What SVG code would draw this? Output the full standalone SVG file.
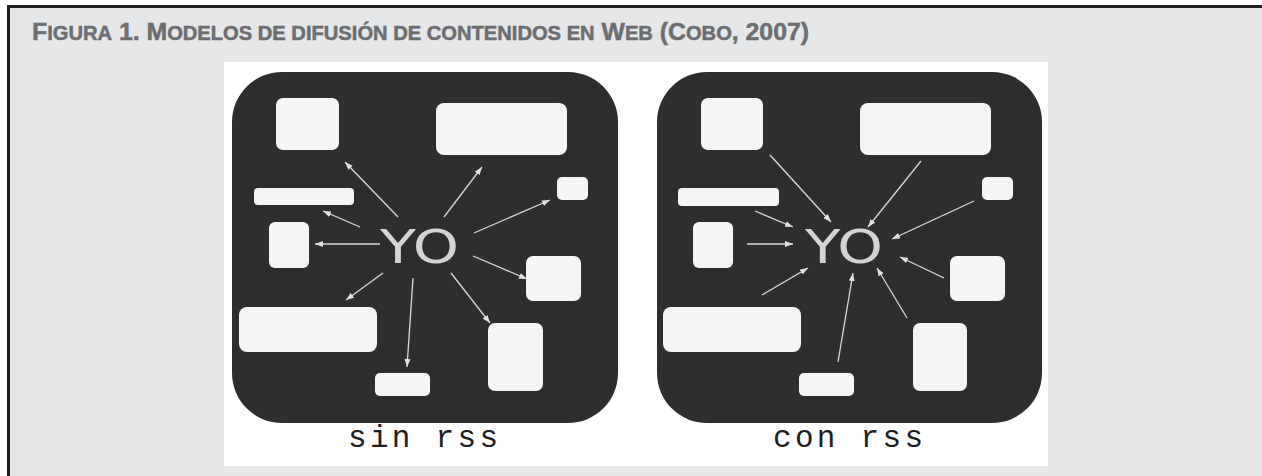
<svg xmlns="http://www.w3.org/2000/svg" width="1262" height="476" viewBox="0 0 1262 476">
<defs>
<style>
.title{font-family:"Liberation Sans",Arial,sans-serif;font-weight:bold;fill:#6d6e71;font-size:24px;stroke:#6d6e71;stroke-width:0.5}
.sc{font-size:19.5px}
.panel{fill:#2f2e2f}
.box{fill:#f5f5f5}
.yo{font-family:"DejaVu Sans","Liberation Sans",sans-serif;fill:#d4d4d4;font-size:46px}
.cap{font-family:"Liberation Mono","Courier New",monospace;fill:#1e1e1e;font-size:31px}
.arr{stroke:#d8d8d8;stroke-width:1.3;fill:none;marker-end:url(#ah)}
</style>
<marker id="ah" viewBox="0 0 8 6" refX="8" refY="3" markerWidth="8" markerHeight="6" markerUnits="userSpaceOnUse" orient="auto">
<path d="M0,0 L8,3 L0,6 z" fill="#e0e0e0"/>
</marker>
</defs>
<rect x="0" y="0" width="1262" height="476" fill="#ffffff"/>
<rect x="8" y="6" width="1254" height="470" fill="#e6e7e8"/>
<line x1="7" y1="6.5" x2="1262" y2="6.5" stroke="#231f20" stroke-width="3"/>
<line x1="8.5" y1="6" x2="8.5" y2="476" stroke="#231f20" stroke-width="3"/>
<text class="title" x="32" y="40" textLength="777" lengthAdjust="spacingAndGlyphs">F<tspan class="sc">IGURA</tspan> 1. M<tspan class="sc">ODELOS DE DIFUSIÓN DE CONTENIDOS EN</tspan> W<tspan class="sc">EB</tspan> (C<tspan class="sc">OBO</tspan>, 2007)</text>
<rect x="224" y="62" width="824" height="404" fill="#ffffff"/>

<g id="sin-rss">
<rect class="panel" x="232" y="72" width="386" height="351" rx="50" ry="50"/>
<g id="sin-nodes">
<rect id="s-a" class="box" x="276" y="98" width="63" height="52" rx="7"/>
<rect id="s-b" class="box" x="436" y="103" width="131" height="52" rx="8"/>
<rect id="s-c" class="box" x="557" y="177" width="31" height="23" rx="5"/>
<rect id="s-d" class="box" x="254" y="188" width="100" height="17" rx="4"/>
<rect id="s-e" class="box" x="269" y="222" width="40" height="46" rx="6"/>
<rect id="s-f" class="box" x="526" y="256" width="55" height="45" rx="7"/>
<rect id="s-g" class="box" x="239" y="307" width="138" height="45" rx="8"/>
<rect id="s-h" class="box" x="488" y="323" width="55" height="68" rx="7"/>
<rect id="s-i" class="box" x="375" y="373" width="55" height="23" rx="5"/>
<text id="s-yo" class="yo" x="380" y="263" textLength="79" lengthAdjust="spacingAndGlyphs">YO</text>
</g>
<g id="sin-connectors">
<line class="arr" x1="398" y1="217" x2="345" y2="162"/>
<line class="arr" x1="444" y1="217" x2="482" y2="167"/>
<line class="arr" x1="474" y1="233" x2="550" y2="200"/>
<line class="arr" x1="360" y1="227" x2="323" y2="211"/>
<line class="arr" x1="380" y1="244" x2="315" y2="244"/>
<line class="arr" x1="473" y1="256" x2="527" y2="279"/>
<line class="arr" x1="383" y1="273" x2="346" y2="300"/>
<line class="arr" x1="413" y1="278" x2="407" y2="367"/>
<line class="arr" x1="451" y1="273" x2="490" y2="323"/>
</g>
<text class="cap" x="348" y="447" textLength="150" lengthAdjust="spacing">sin rss</text>
</g>

<g id="con-rss">
<rect class="panel" x="657" y="72" width="385" height="351" rx="50" ry="50"/>
<g id="con-nodes">
<rect id="c-a" class="box" x="701" y="98" width="62" height="52" rx="7"/>
<rect id="c-b" class="box" x="860" y="103" width="131" height="52" rx="8"/>
<rect id="c-c" class="box" x="982" y="177" width="31" height="23" rx="5"/>
<rect id="c-d" class="box" x="678" y="188" width="101" height="18" rx="4"/>
<rect id="c-e" class="box" x="693" y="222" width="40" height="46" rx="6"/>
<rect id="c-f" class="box" x="950" y="256" width="55" height="45" rx="7"/>
<rect id="c-g" class="box" x="663" y="307" width="138" height="45" rx="8"/>
<rect id="c-h" class="box" x="913" y="323" width="54" height="68" rx="7"/>
<rect id="c-i" class="box" x="799" y="373" width="55" height="23" rx="5"/>
<text id="c-yo" class="yo" x="805" y="263" textLength="78" lengthAdjust="spacingAndGlyphs">YO</text>
</g>
<g id="con-connectors">
<line class="arr" x1="770" y1="155" x2="831" y2="222"/>
<line class="arr" x1="921" y1="161" x2="868" y2="227"/>
<line class="arr" x1="974" y1="201" x2="892" y2="239"/>
<line class="arr" x1="755" y1="211" x2="793" y2="227"/>
<line class="arr" x1="747" y1="244" x2="793" y2="244"/>
<line class="arr" x1="944" y1="278" x2="900" y2="257"/>
<line class="arr" x1="762" y1="295" x2="808" y2="268"/>
<line class="arr" x1="838" y1="362" x2="853" y2="273"/>
<line class="arr" x1="907" y1="318" x2="877" y2="268"/>
</g>
<text class="cap" x="773" y="447" textLength="150" lengthAdjust="spacing">con rss</text>
</g>
</svg>
